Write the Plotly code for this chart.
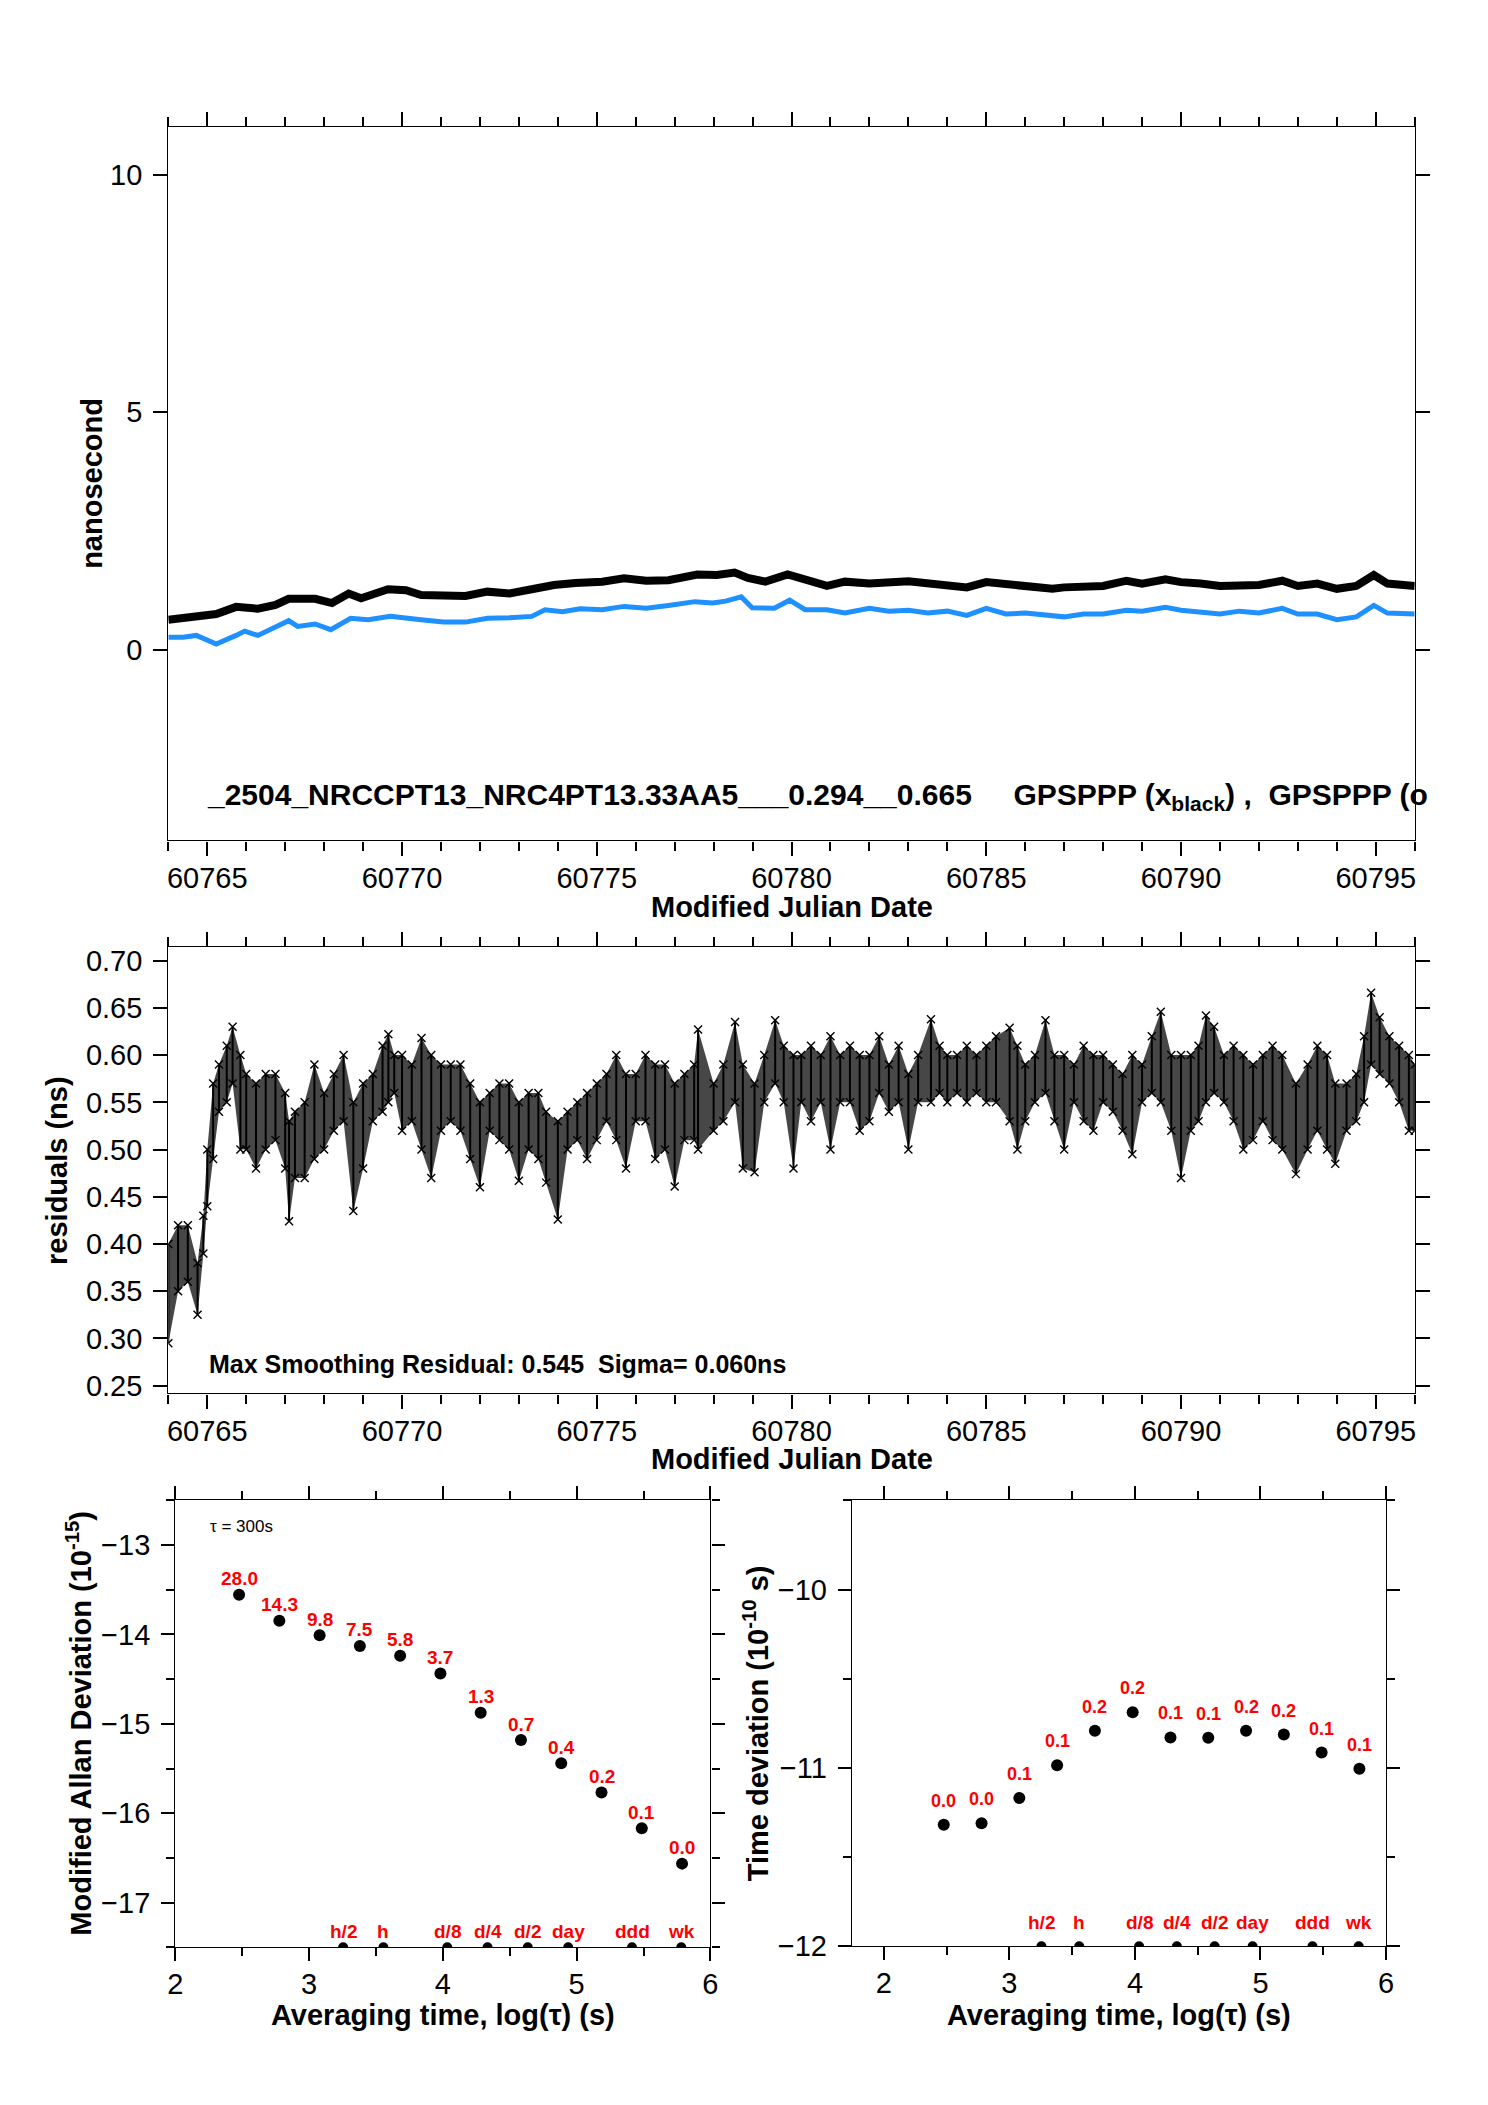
import plotly.graph_objects as go

# ---------------- data ----------------
blk_mjd = [60764.0, 60764.72, 60765.23, 60765.74, 60766.30, 60766.75, 60767.09, 60767.77, 60768.2, 60768.63,
           60768.95, 60769.64, 60770.1, 60770.49, 60771.06, 60771.63, 60772.19, 60772.76, 60773.33, 60773.9,
           60774.45, 60775.14, 60775.7, 60776.27, 60776.84, 60777.58, 60778.08, 60778.54, 60778.88, 60779.33,
           60779.9, 60780.35, 60780.91, 60781.37, 60782.0, 60783.0, 60784.0, 60784.5, 60785.0, 60786.0,
           60786.7, 60787.0, 60788.0, 60788.6, 60789.0, 60789.6, 60790.0, 60790.5, 60791.0, 60792.0,
           60792.6, 60793.0, 60793.5, 60794.0, 60794.5, 60794.95, 60795.3, 60796.0]
blk_ns = [0.64, 0.71, 0.76, 0.91, 0.87, 0.95, 1.08, 1.08, 0.99, 1.19,
          1.09, 1.28, 1.26, 1.16, 1.16, 1.14, 1.23, 1.19, 1.28, 1.37,
          1.41, 1.44, 1.51, 1.46, 1.47, 1.59, 1.58, 1.63, 1.52, 1.44,
          1.59, 1.47, 1.35, 1.44, 1.40, 1.45, 1.35, 1.32, 1.43, 1.37,
          1.29, 1.32, 1.35, 1.46, 1.40, 1.49, 1.43, 1.40, 1.35, 1.37,
          1.46, 1.35, 1.40, 1.29, 1.35, 1.58, 1.40, 1.35]

blu_mjd = [60764.0, 60764.38, 60764.72, 60765.23, 60765.74, 60765.96, 60766.30, 60766.75, 60767.09, 60767.32,
           60767.77, 60768.17, 60768.68, 60769.13, 60769.70, 60770.49, 60771.06, 60771.63, 60772.19, 60772.76,
           60773.33, 60773.67, 60774.12, 60774.57, 60775.14, 60775.70, 60776.27, 60776.84, 60777.52, 60777.97,
           60778.31, 60778.71, 60778.99, 60779.56, 60779.95, 60780.35, 60780.91, 60781.37, 60782.0, 60782.5,
           60783.0, 60783.5, 60784.0, 60784.5, 60785.0, 60785.5, 60786.0, 60787.0, 60787.5, 60788.0,
           60788.6, 60789.0, 60789.6, 60790.0, 60790.5, 60791.0, 60791.5, 60792.0, 60792.6, 60793.0,
           60793.5, 60794.0, 60794.5, 60794.95, 60795.3, 60796.0]
blu_ns = [0.27, 0.27, 0.31, 0.13, 0.31, 0.40, 0.31, 0.50, 0.62, 0.50,
          0.55, 0.43, 0.67, 0.64, 0.71, 0.64, 0.59, 0.59, 0.67, 0.68,
          0.71, 0.85, 0.81, 0.87, 0.85, 0.92, 0.88, 0.94, 1.02, 0.99,
          1.03, 1.12, 0.89, 0.88, 1.05, 0.85, 0.85, 0.78, 0.88, 0.82,
          0.84, 0.78, 0.82, 0.73, 0.88, 0.76, 0.78, 0.70, 0.76, 0.76,
          0.84, 0.82, 0.90, 0.84, 0.80, 0.76, 0.82, 0.78, 0.88, 0.76,
          0.76, 0.64, 0.70, 0.94, 0.78, 0.76]

res_mjd = [60764.00, 60764.25, 60764.50, 60764.75, 60764.90, 60765.00, 60765.15, 60765.30, 60765.50, 60765.65,
           60765.85, 60766.00, 60766.25, 60766.50, 60766.75, 60767.00, 60767.10, 60767.25, 60767.50, 60767.75,
           60768.00, 60768.25, 60768.50, 60768.75, 60769.00, 60769.25, 60769.50, 60769.65, 60769.80, 60770.00,
           60770.25, 60770.50, 60770.75, 60771.00, 60771.25, 60771.50, 60771.75, 60772.00, 60772.25, 60772.50,
           60772.75, 60773.00, 60773.25, 60773.50, 60773.70, 60774.00, 60774.25, 60774.50, 60774.75, 60775.00,
           60775.25, 60775.50, 60775.75, 60776.00, 60776.25, 60776.50, 60776.75, 60777.00, 60777.25, 60777.50,
           60777.60, 60778.00, 60778.25, 60778.55, 60778.75, 60779.05, 60779.30, 60779.58, 60779.80, 60780.05,
           60780.25, 60780.50, 60780.75, 60781.00, 60781.25, 60781.50, 60781.75, 60782.00, 60782.25, 60782.50,
           60782.75, 60783.00, 60783.25, 60783.58, 60783.80, 60784.00, 60784.25, 60784.50, 60784.75, 60785.00,
           60785.25, 60785.60, 60785.80, 60786.00, 60786.25, 60786.52, 60786.75, 60787.00, 60787.25, 60787.50,
           60787.75, 60788.00, 60788.25, 60788.50, 60788.75, 60789.00, 60789.25, 60789.48, 60789.75, 60790.00,
           60790.25, 60790.45, 60790.64, 60790.85, 60791.10, 60791.35, 60791.60, 60791.85, 60792.10, 60792.35,
           60792.60, 60792.95, 60793.25, 60793.50, 60793.75, 60793.96, 60794.25, 60794.50, 60794.70, 60794.88,
           60795.10, 60795.35, 60795.60, 60795.85, 60796.00]
res_hi = [0.40, 0.42, 0.42, 0.38, 0.43, 0.50, 0.57, 0.59, 0.61, 0.63,
          0.60, 0.58, 0.57, 0.58, 0.58, 0.56, 0.53, 0.54, 0.55, 0.59,
          0.56, 0.58, 0.60, 0.55, 0.57, 0.58, 0.61, 0.622, 0.60, 0.60,
          0.59, 0.618, 0.60, 0.59, 0.59, 0.59, 0.57, 0.55, 0.56, 0.57,
          0.57, 0.55, 0.56, 0.56, 0.54, 0.53, 0.54, 0.55, 0.56, 0.57,
          0.58, 0.60, 0.58, 0.58, 0.60, 0.59, 0.59, 0.57, 0.58, 0.59,
          0.627, 0.57, 0.59, 0.635, 0.59, 0.57, 0.60, 0.637, 0.61, 0.60,
          0.60, 0.61, 0.60, 0.62, 0.60, 0.61, 0.60, 0.60, 0.62, 0.59,
          0.61, 0.58, 0.60, 0.638, 0.61, 0.60, 0.60, 0.61, 0.60, 0.61,
          0.62, 0.629, 0.61, 0.59, 0.60, 0.637, 0.60, 0.60, 0.59, 0.61,
          0.60, 0.60, 0.59, 0.58, 0.60, 0.59, 0.62, 0.646, 0.60, 0.60,
          0.60, 0.61, 0.642, 0.63, 0.60, 0.61, 0.60, 0.59, 0.60, 0.61,
          0.60, 0.57, 0.59, 0.61, 0.60, 0.57, 0.57, 0.58, 0.62, 0.666,
          0.64, 0.62, 0.61, 0.60, 0.59]
res_lo = [0.295, 0.35, 0.36, 0.325, 0.39, 0.44, 0.49, 0.54, 0.55, 0.57,
          0.50, 0.50, 0.48, 0.50, 0.51, 0.48, 0.424, 0.47, 0.47, 0.49,
          0.50, 0.52, 0.53, 0.435, 0.48, 0.53, 0.54, 0.55, 0.56, 0.52,
          0.53, 0.50, 0.47, 0.52, 0.53, 0.52, 0.49, 0.46, 0.52, 0.51,
          0.50, 0.467, 0.50, 0.49, 0.465, 0.426, 0.50, 0.51, 0.49, 0.51,
          0.53, 0.51, 0.48, 0.53, 0.53, 0.49, 0.50, 0.461, 0.51, 0.51,
          0.50, 0.52, 0.53, 0.55, 0.48, 0.476, 0.55, 0.57, 0.55, 0.48,
          0.55, 0.53, 0.55, 0.50, 0.55, 0.55, 0.52, 0.53, 0.56, 0.54,
          0.55, 0.50, 0.55, 0.55, 0.56, 0.55, 0.56, 0.55, 0.56, 0.55,
          0.55, 0.53, 0.50, 0.53, 0.55, 0.56, 0.53, 0.50, 0.55, 0.53,
          0.52, 0.55, 0.54, 0.52, 0.495, 0.55, 0.56, 0.55, 0.52, 0.47,
          0.52, 0.53, 0.55, 0.56, 0.55, 0.53, 0.50, 0.51, 0.53, 0.51,
          0.50, 0.474, 0.50, 0.52, 0.50, 0.485, 0.52, 0.53, 0.55, 0.59,
          0.58, 0.57, 0.55, 0.52, 0.52]

log_tau = [2.477, 2.778, 3.079, 3.380, 3.681, 3.982, 4.283, 4.584, 4.885, 5.186, 5.487, 5.788]
mdev_log = [-13.555, -13.846, -14.009, -14.128, -14.238, -14.436, -14.877, -15.181, -15.441, -15.767, -16.167, -16.564]
mdev_lbl = ["28.0", "14.3", "9.8", "7.5", "5.8", "3.7", "1.3", "0.7", "0.4", "0.2", "0.1", "0.0"]
tdev_log = [-11.319, -11.310, -11.169, -10.985, -10.791, -10.688, -10.829, -10.831, -10.791, -10.813, -10.914, -11.004]
tdev_lbl = ["0.0", "0.0", "0.1", "0.1", "0.2", "0.2", "0.1", "0.1", "0.2", "0.2", "0.1", "0.1"]
mark_tau = [3.255, 3.556, 4.033, 4.334, 4.635, 4.937, 5.414, 5.782]
mark_lbl = ["h/2", "h", "d/8", "d/4", "d/2", "day", "ddd", "wk"]

# ---------------- figure ----------------
OFF = 8                      # default page body margin
W, H = 1488 - OFF, 2105 - OFF
FONT = "Liberation Sans, Arial, Helvetica, sans-serif"
RED = "#ff0000"


def px_x(p):
    return (p - OFF) / W


def px_y(p):
    return 1 - (p - OFF) / H


fig = go.Figure()

# top panel
fig.add_trace(go.Scatter(x=blk_mjd, y=blk_ns, mode="lines", line=dict(color="black", width=8),
                         xaxis="x", yaxis="y", showlegend=False))
fig.add_trace(go.Scatter(x=blu_mjd, y=blu_ns, mode="lines", line=dict(color="#1e90ff", width=5),
                         xaxis="x", yaxis="y", showlegend=False))

# residuals panel: shaded envelope + vertical strokes from low to high reading
fig.add_trace(go.Scatter(x=res_mjd + res_mjd[::-1], y=res_hi + res_lo[::-1], mode="lines",
                         fill="toself", fillcolor="rgba(0,0,0,0.72)", line=dict(width=0),
                         xaxis="x2", yaxis="y2", showlegend=False, hoverinfo="skip"))
rx, ry = [], []
for m, lo, hi in zip(res_mjd, res_lo, res_hi):
    rx += [m, m, None]
    ry += [lo, hi, None]
fig.add_trace(go.Scatter(x=rx, y=ry, mode="lines", line=dict(color="black", width=2),
                         xaxis="x2", yaxis="y2", showlegend=False))
fig.add_trace(go.Scatter(x=res_mjd + res_mjd, y=res_hi + res_lo, mode="markers",
                         marker=dict(symbol="x-thin", size=8, line=dict(color="black", width=1.4)),
                         xaxis="x2", yaxis="y2", showlegend=False))

# MDEV panel
fig.add_trace(go.Scatter(x=log_tau, y=mdev_log, mode="markers", marker=dict(color="black", size=12),
                         xaxis="x3", yaxis="y3", showlegend=False))
fig.add_trace(go.Scatter(x=mark_tau, y=[-17.5] * len(mark_tau), mode="markers",
                         marker=dict(color="black", size=10), cliponaxis=True,
                         xaxis="x3", yaxis="y3", showlegend=False))
# TDEV panel
fig.add_trace(go.Scatter(x=log_tau, y=tdev_log, mode="markers", marker=dict(color="black", size=12),
                         xaxis="x4", yaxis="y4", showlegend=False))
fig.add_trace(go.Scatter(x=mark_tau, y=[-12.0] * len(mark_tau), mode="markers",
                         marker=dict(color="black", size=10), cliponaxis=True,
                         xaxis="x4", yaxis="y4", showlegend=False))

common = dict(showline=True, linecolor="black", linewidth=1.3, mirror="ticks", ticks="outside",
              tickwidth=2, tickcolor="black", showgrid=False, zeroline=False,
              tickfont=dict(family=FONT, size=29, color="black"))
XSO, YSO = -2, 5

fig.update_layout(
    width=W, height=H, margin=dict(l=0, r=0, t=0, b=0),
    paper_bgcolor="white", plot_bgcolor="white",
    font=dict(family=FONT, color="black"),
    xaxis=dict(domain=[px_x(162), px_x(1422)], range=[60764, 60796], anchor="y",
               tick0=60765, dtick=5, tickformat="d", ticklen=14, ticklabelstandoff=XSO,
               minor=dict(dtick=1, ticklen=9, tickwidth=1.5, ticks="outside", tickcolor="black"),
               **common),
    yaxis=dict(domain=[px_y(845), px_y(125)], range=[-4, 11], anchor="x",
               tickvals=[0, 5, 10], ticklen=14, ticklabelstandoff=YSO, **common),
    xaxis2=dict(domain=[px_x(162), px_x(1422)], range=[60764, 60796], anchor="y2",
                tick0=60765, dtick=5, tickformat="d", ticklen=14, ticklabelstandoff=XSO,
                minor=dict(dtick=1, ticklen=9, tickwidth=1.5, ticks="outside", tickcolor="black"),
                **common),
    yaxis2=dict(domain=[px_y(1403), px_y(953)], range=[0.2419, 0.714], anchor="x2",
                tick0=0.25, dtick=0.05, tickformat=".2f", ticklen=14, ticklabelstandoff=YSO, **common),
    xaxis3=dict(domain=[px_x(169), px_x(710)], range=[2, 6], anchor="y3",
                tick0=2, dtick=1, ticklen=13, ticklabelstandoff=XSO,
                minor=dict(dtick=0.5, ticklen=8, tickwidth=2, ticks="outside", tickcolor="black"),
                **common),
    yaxis3=dict(domain=[px_y(1962), px_y(1511)], range=[-17.5, -12.5], anchor="x3",
                tick0=-17, dtick=1, ticklen=13, ticklabelstandoff=YSO,
                minor=dict(dtick=0.5, ticklen=8, tickwidth=2, ticks="outside", tickcolor="black"),
                **common),
    xaxis4=dict(domain=[px_x(853), px_x(1393)], range=[1.745, 6], anchor="y4",
                tick0=2, dtick=1, ticklen=13, ticklabelstandoff=XSO,
                minor=dict(dtick=0.5, ticklen=8, tickwidth=2, ticks="outside", tickcolor="black"),
                **common),
    yaxis4=dict(domain=[px_y(1961), px_y(1511)], range=[-12, -9.5], anchor="x4",
                tick0=-12, dtick=1, ticklen=13, ticklabelstandoff=YSO,
                minor=dict(dtick=0.5, ticklen=8, tickwidth=2, ticks="outside", tickcolor="black"),
                **common),
)

ann = []
tfont = dict(family=FONT, size=29, color="black")
# axis titles
ann.append(dict(text="<b>nanosecond</b>", x=px_x(84), y=px_y(485), xref="paper", yref="paper",
                textangle=-90, showarrow=False, font=tfont, xanchor="center", yanchor="middle"))
ann.append(dict(text="<b>residuals (ns)</b>", x=px_x(50), y=px_y(1178), xref="paper", yref="paper",
                textangle=-90, showarrow=False, font=tfont, xanchor="center", yanchor="middle"))
ann.append(dict(text="<b>Modified Allan Deviation (10<sup>-15</sup>)</b>", x=px_x(72), y=px_y(1736),
                xref="paper", yref="paper", textangle=-90, showarrow=False, font=tfont,
                xanchor="center", yanchor="middle"))
ann.append(dict(text="<b>Time deviation (10<sup>-10</sup> s)</b>", x=px_x(756), y=px_y(1736),
                xref="paper", yref="paper", textangle=-90, showarrow=False, font=tfont,
                xanchor="center", yanchor="middle"))
for yy in (912, 1469):
    ann.append(dict(text="<b>Modified Julian Date</b>", x=px_x(792), y=px_y(yy), xref="paper", yref="paper",
                    showarrow=False, font=tfont, xanchor="center", yanchor="middle"))
for xx in (439.5, 1123):
    ann.append(dict(text="<b>Averaging time, log(τ) (s)</b>", x=px_x(xx), y=px_y(2030), xref="paper",
                    yref="paper", showarrow=False, font=tfont, xanchor="center", yanchor="middle"))

# in-plot texts
ann.append(dict(text="<b>_2504_NRCCPT13_NRC4PT13.33AA5___0.294__0.665\u00a0\u00a0\u00a0\u00a0 GPSPPP (x<sub>black</sub>)\u00a0,\u00a0 GPSPPP (o</b>",
                x=60764.94, y=-3.08, xref="x", yref="y", showarrow=False, xanchor="left", yanchor="middle",
                font=dict(family=FONT, size=30, color="black")))
ann.append(dict(text="<b>Max Smoothing Residual: 0.545\u00a0 Sigma= 0.060ns</b>", x=60764.99, y=0.2726,
                xref="x2", yref="y2", showarrow=False, xanchor="left", yanchor="middle",
                font=dict(family=FONT, size=25, color="black")))
ann.append(dict(text="τ = 300s", x=2.247, y=-12.79, xref="x3", yref="y3", showarrow=False,
                xanchor="left", yanchor="middle", font=dict(family=FONT, size=17, color="black")))

lfont = dict(family=FONT, size=19, color=RED)
for xv, yv, t in zip(log_tau, mdev_log, mdev_lbl):
    ann.append(dict(text="<b>%s</b>" % t, x=xv, y=yv, xref="x3", yref="y3", showarrow=False,
                    yshift=16, xanchor="center", yanchor="middle", font=lfont))
for xv, yv, t in zip(log_tau, tdev_log, tdev_lbl):
    ann.append(dict(text="<b>%s</b>" % t, x=xv, y=yv, xref="x4", yref="y4", showarrow=False,
                    yshift=24, xanchor="center", yanchor="middle", font=dict(family=FONT, size=18, color=RED)))
for xv, t in zip(mark_tau, mark_lbl):
    ann.append(dict(text="<b>%s</b>" % t, x=xv, y=-17.5, xref="x3", yref="y3", showarrow=False,
                    yshift=16, xanchor="center", yanchor="middle", font=lfont))
    ann.append(dict(text="<b>%s</b>" % t, x=xv, y=-12.0, xref="x4", yref="y4", showarrow=False,
                    yshift=24, xanchor="center", yanchor="middle", font=lfont))

fig.update_layout(annotations=ann)
fig.write_html("out.html")
